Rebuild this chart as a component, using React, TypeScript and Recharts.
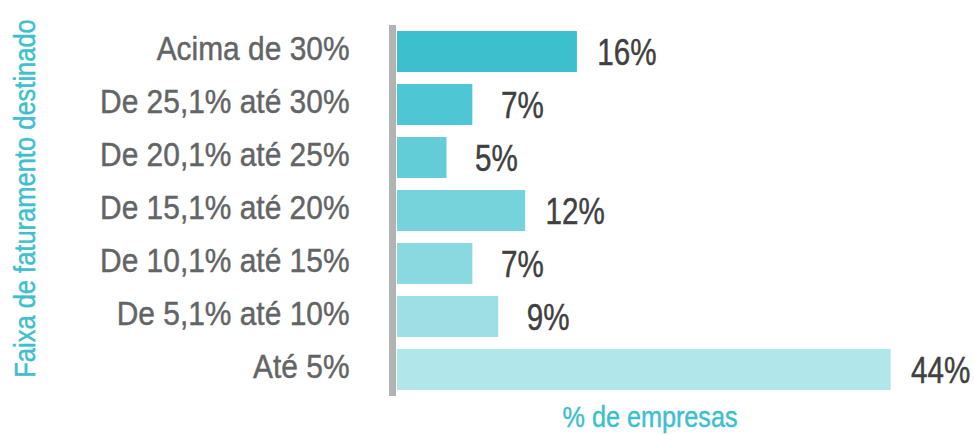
import React from 'react';
import { BarChart, Bar, XAxis, YAxis, Cell, LabelList } from 'recharts';

const categories = [
  'Acima de 30%',
  'De 25,1% até 30%',
  'De 20,1% até 25%',
  'De 15,1% até 20%',
  'De 10,1% até 15%',
  'De 5,1% até 10%',
  'Até 5%',
];
const values = [16.0, 6.7, 4.4, 11.4, 6.7, 9.0, 43.9];
const valueLabels = ['16%', '7%', '5%', '12%', '7%', '9%', '44%'];
const barColors = ['#3DC0CE', '#4EC6D3', '#62CCD7', '#76D3DB', '#8AD9E0', '#9EDFE5', '#B1E6EA'];

const yTitle = 'Faixa de faturamento destinado';
const xTitle = '% de empresas';

const data = categories.map((c, i) => ({ name: c, value: values[i], label: valueLabels[i] }));

const FONT = '"Liberation Sans", Arial, sans-serif';

type NTProps = {
  x: number;
  y: number;
  anchor: 'start' | 'middle' | 'end';
  size: number;
  sx: number;
  fill: string;
  rotate?: number;
  children: React.ReactNode;
};

const NarrowText = ({ x, y, anchor, size, sx, fill, rotate = 0, children }: NTProps) => (
  <g transform={`translate(${x}, ${y}) rotate(${rotate}) scale(${sx}, 1)`}>
    <text
      x={0}
      y={0}
      textAnchor={anchor}
      fontFamily={FONT}
      fontSize={size}
      fill={fill}
      stroke={fill}
      strokeWidth={0.45}
    >
      {children}
    </text>
  </g>
);

const CategoryTick = (props: any) => {
  const { x, y, payload } = props;
  return (
    <NarrowText x={x} y={y + 8} anchor="end" size={34} sx={0.88} fill="#636466">
      {payload.value}
    </NarrowText>
  );
};

const ValueLabel = (props: any) => {
  const { x, y, width, height, index } = props;
  return (
    <NarrowText x={x + width + 50} y={y + height / 2 + 13} anchor="middle" size={37} sx={0.8} fill="#404040">
      {valueLabels[index]}
    </NarrowText>
  );
};

const YTitle = (props: any) => {
  const { viewBox } = props;
  const cy = viewBox.y + viewBox.height / 2 - 12;
  return (
    <NarrowText x={35} y={cy} anchor="middle" size={30} sx={0.85} fill="#3DBFCE" rotate={-90}>
      {yTitle}
    </NarrowText>
  );
};

const XTitle = (props: any) => {
  const { viewBox } = props;
  return (
    <NarrowText x={viewBox.x + viewBox.width / 2} y={427} anchor="middle" size={30} sx={0.84} fill="#3DBFCE">
      {xTitle}
    </NarrowText>
  );
};

export default function App() {
  return (
    <div style={{ position: 'fixed', left: 0, top: 0, width: 974, height: 435, background: '#fff' }}>
      <BarChart
        width={974}
        height={435}
        data={data}
        layout="vertical"
        margin={{ top: 25, right: 66.5, bottom: 0, left: 0 }}
      >
        <XAxis
          type="number"
          domain={[-0.4, 45.4]}
          height={39}
          tick={false}
          tickLine={false}
          axisLine={false}
          label={{ content: <XTitle /> }}
        />
        <YAxis
          type="category"
          dataKey="name"
          width={392.5}
          tickSize={0}
          tickMargin={43}
          tickLine={false}
          axisLine={{ stroke: '#B2B4B4', strokeWidth: 7 }}
          tick={<CategoryTick />}
          label={{ content: <YTitle /> }}
        />
        <Bar dataKey="value" barSize={41} isAnimationActive={false}>
          {data.map((d, i) => (
            <Cell key={d.name} fill={barColors[i]} />
          ))}
          <LabelList dataKey="label" content={<ValueLabel />} />
        </Bar>
      </BarChart>
    </div>
  );
}
